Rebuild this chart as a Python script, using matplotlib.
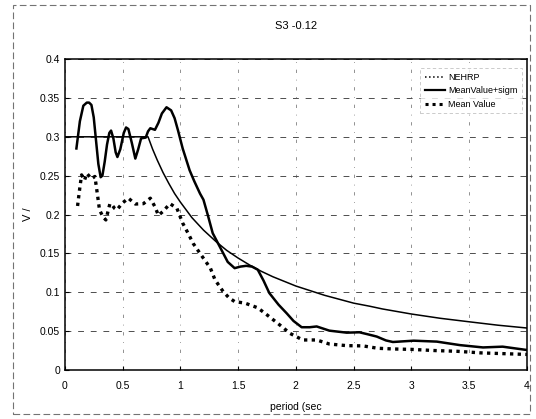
import matplotlib
matplotlib.use('Agg')
import matplotlib.pyplot as plt
from matplotlib.lines import Line2D
from matplotlib.patches import Rectangle

plt.rcParams['font.family'] = ['Liberation Sans', 'DejaVu Sans']

# NEHRP design spectrum
nehrp_t = [0.0, 0.72, 0.76, 0.8, 0.85, 0.9, 0.95, 1.0, 1.1, 1.2, 1.31, 1.4, 1.5, 1.6,
           1.7, 1.8, 2.0, 2.25, 2.5, 2.64, 2.75, 3.0, 3.25, 3.5, 3.75, 4.0]
nehrp_v = [0.3, 0.3, 0.284, 0.27, 0.254, 0.24, 0.227, 0.216, 0.196, 0.18, 0.165, 0.154,
           0.144, 0.135, 0.127, 0.12, 0.108, 0.096, 0.086, 0.082, 0.0785, 0.072, 0.0665,
           0.062, 0.0576, 0.054]

# Mean value + sigma
sig_t = [0.10, 0.13, 0.16, 0.19, 0.21, 0.23, 0.25, 0.27, 0.29, 0.31, 0.325, 0.345,
         0.365, 0.385, 0.40, 0.42, 0.44, 0.455, 0.48, 0.51, 0.53, 0.55, 0.58, 0.61,
         0.635, 0.66, 0.70, 0.72, 0.74, 0.78, 0.81, 0.84, 0.88, 0.92, 0.95, 0.98, 1.02,
         1.08, 1.12, 1.17, 1.20, 1.24, 1.28, 1.34, 1.41, 1.47, 1.52, 1.57, 1.62, 1.67,
         1.72, 1.77, 1.85, 1.92, 1.98, 2.05, 2.12, 2.18, 2.29, 2.44, 2.55, 2.62, 2.70,
         2.78, 2.84, 3.02, 3.22, 3.42, 3.62, 3.79, 4.0]
sig_v = [0.285, 0.32, 0.340, 0.344, 0.344, 0.341, 0.325, 0.295, 0.265, 0.248, 0.250,
         0.268, 0.290, 0.305, 0.308, 0.298, 0.280, 0.274, 0.284, 0.305, 0.312, 0.310,
         0.292, 0.272, 0.284, 0.298, 0.299, 0.307, 0.311, 0.309, 0.318, 0.330, 0.338,
         0.334, 0.324, 0.308, 0.285, 0.257, 0.243, 0.227, 0.219, 0.198, 0.176, 0.159,
         0.139, 0.131, 0.133, 0.134, 0.133, 0.129, 0.115, 0.099, 0.084, 0.073, 0.063,
         0.055, 0.055, 0.056, 0.0506, 0.048, 0.0485, 0.046, 0.043, 0.038, 0.036,
         0.0377, 0.0365, 0.032, 0.029, 0.030, 0.0257]

# Mean value
mean_t = [0.11, 0.13, 0.145, 0.17, 0.19, 0.23, 0.26, 0.28, 0.30, 0.33, 0.355, 0.375,
          0.39, 0.41, 0.43, 0.45, 0.50, 0.55, 0.61, 0.68, 0.74, 0.78, 0.81, 0.85, 0.91,
          0.97, 1.02, 1.07, 1.11, 1.17, 1.26, 1.30, 1.37, 1.42, 1.47, 1.56, 1.67, 1.77,
          1.86, 1.95, 2.06, 2.18, 2.29, 2.44, 2.58, 2.71, 2.85, 3.0, 3.2, 3.4, 3.6, 3.8,
          4.0]
mean_v = [0.211, 0.235, 0.251, 0.244, 0.253, 0.246, 0.249, 0.228, 0.206, 0.197, 0.193,
          0.205, 0.214, 0.212, 0.208, 0.206, 0.215, 0.221, 0.2135, 0.214, 0.221, 0.210,
          0.199, 0.204, 0.214, 0.208, 0.189, 0.175, 0.163, 0.150, 0.131, 0.116, 0.101,
          0.093, 0.088, 0.086, 0.080, 0.0686, 0.058, 0.047, 0.0386, 0.0386, 0.0334,
          0.0313, 0.031, 0.0279, 0.027, 0.0265, 0.025, 0.024, 0.022, 0.021, 0.020]

xticks = [0, 0.5, 1, 1.5, 2, 2.5, 3, 3.5, 4]
xtick_labels = ['0', '0.5', '1', '1.5', '2', '2.5', '3', '3.5', '4']
yticks = [0, 0.05, 0.1, 0.15, 0.2, 0.25, 0.3, 0.35, 0.4]
ytick_labels = ['0', '0.05', '0.1', '0.15', '0.2', '0.25', '0.3', '0.35', '0.4']

fig = plt.figure(figsize=(5.36, 4.19), dpi=100)
ax = fig.add_axes([0.121, 0.117, 0.862, 0.742])

ax.plot(nehrp_t, nehrp_v, color='black', lw=1.1)
ax.plot(sig_t, sig_v, color='black', lw=1.8, solid_joinstyle='round')
ax.plot(mean_t, mean_v, color='black', lw=2.4, linestyle=(0, (1, 1.3)))

ax.set_xlim(0, 4)
ax.set_ylim(0, 0.4)
ax.set_xticks(xticks)
ax.set_xticklabels(xtick_labels)
ax.set_yticks(yticks)
ax.set_yticklabels(ytick_labels)
ax.tick_params(direction='in', length=3, labelsize=7.5, width=0.8)
ax.tick_params(axis='x', pad=8)
ax.grid(axis='y', color='0.3', linestyle=(0, (6, 7)), lw=0.7)
ax.grid(axis='x', color='0.5', linestyle=(0, (4, 8, 1, 8)), lw=0.6)
for s in ax.spines.values():
    s.set_linewidth(1.1)

ax.set_title('S3 -0.12', fontsize=8, pad=22)
ax.set_xlabel('period (sec', fontsize=7.5, labelpad=8)
ax.set_ylabel('V /', fontsize=8, labelpad=5)

handles = [
    Line2D([], [], color='black', lw=1.1, linestyle=':'),
    Line2D([], [], color='black', lw=1.6),
    Line2D([], [], color='black', lw=2.2, linestyle=(0, (1, 1.3))),
]
leg = ax.legend(handles, ['NEHRP', 'MeanValue+sigm', 'Mean Value'], loc='upper right',
                bbox_to_anchor=(1.0, 0.985), fontsize=6.5, handlelength=2.2,
                handletextpad=0.4, labelspacing=0.5, borderpad=0.5, fancybox=False)
leg.get_frame().set_edgecolor('0.7')
leg.get_frame().set_linewidth(0.6)
leg.get_frame().set_linestyle((0, (4, 3)))

# dashed border of the scanned figure
fig.patches.append(Rectangle((0.024, 0.012), 0.965, 0.976, transform=fig.transFigure,
                             fill=False, edgecolor='0.45', lw=0.8, linestyle=(0, (6, 3))))

fig.savefig('out.png', dpi=100)
